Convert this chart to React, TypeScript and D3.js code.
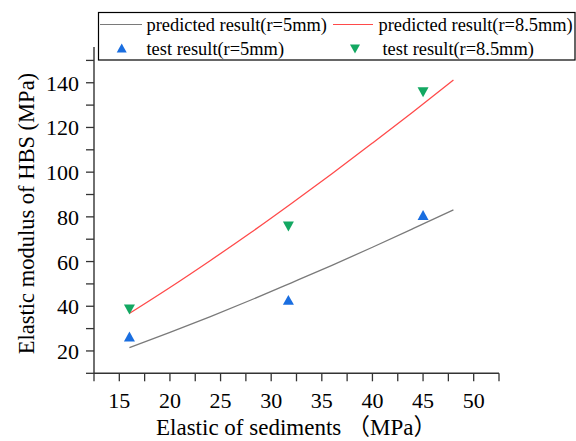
import React from "react";
import * as d3 from "d3";

const W = 576;
const H = 441;

// predicted curves
const predX = [16, 20, 24, 28, 32, 36, 40, 44, 48];
const pred5 = [21.5, 28.3, 35.4, 42.8, 50.5, 58.3, 66.4, 74.7, 83.1];
const pred85 = [36.8, 48.4, 60.5, 73.0, 86.0, 99.3, 113.0, 126.9, 141.2];

// test results
const testX = [16, 31.7, 45];
const test5 = [26.2, 42.6, 80.6];
const test85 = [38.8, 75.9, 136];

const xMajor = [15, 20, 25, 30, 35, 40, 45, 50];
const xMinor = [12.5, 17.5, 22.5, 27.5, 32.5, 37.5, 42.5, 47.5, 52.5];
const yMajor = [20, 40, 60, 80, 100, 120, 140];
const yMinor = [10, 30, 50, 70, 90, 110, 130, 150];

const legendLabels = [
  "predicted result(r=5mm)",
  "predicted result(r=8.5mm)",
  "test result(r=5mm)",
  "test result(r=8.5mm)",
];

const FONT = "'Liberation Serif', 'Times New Roman', 'Noto Sans CJK SC', serif";
const AX = "#333";
const GRAY = "#7a7a7a";
const RED = "#ff4a4a";
const BLUE = "#1a6ee0";
const GREEN = "#13a862";
const ts = { fontFamily: FONT } as React.CSSProperties;

function triUp(cx: number, cy: number, s = 5.5) {
  return `M${cx},${cy - s}L${cx + s},${cy + s * 0.8}L${cx - s},${cy + s * 0.8}Z`;
}
function triDown(cx: number, cy: number, s = 5.5) {
  return `M${cx},${cy + s}L${cx + s},${cy - s * 0.8}L${cx - s},${cy - s * 0.8}Z`;
}

export default function App() {
  const x = d3.scaleLinear().domain([12.5, 52.5]).range([94, 499]);
  const y = d3.scaleLinear().domain([10, 156]).range([373.3, 47]);
  const line = d3
    .line<number>()
    .x((_, i) => x(predX[i]))
    .y((d) => y(d))
    .curve(d3.curveMonotoneX);
  const x0 = x(12.5);
  const y0 = y(10);
  const tk = 8;

  return (
    <svg
      width={W}
      height={H}
      style={{ position: "absolute", left: 0, top: 0, background: "#fff" }}
    >
      <rect x={0} y={0} width={W} height={H} fill="#fff" />
      {/* curves */}
      <path d={line(pred5) || ""} fill="none" stroke={GRAY} strokeWidth={1.3} />
      <path d={line(pred85) || ""} fill="none" stroke={RED} strokeWidth={1.3} />
      {/* markers */}
      {testX.map((v, i) => (
        <path key={"b" + i} d={triUp(x(v), y(test5[i]))} fill={BLUE} />
      ))}
      {testX.map((v, i) => (
        <path key={"g" + i} d={triDown(x(v), y(test85[i]))} fill={GREEN} />
      ))}
      {/* axes */}
      <line x1={x0} x2={x0} y1={y(156)} y2={y0} stroke={AX} strokeWidth={1.4} />
      <line x1={x0} x2={x(52.5)} y1={y0} y2={y0} stroke={AX} strokeWidth={1.4} />
      {[...xMajor, ...xMinor].map((v) => (
        <line key={"xt" + v} x1={x(v)} x2={x(v)} y1={y0} y2={y0 + tk} stroke={AX} strokeWidth={1.3} />
      ))}
      {[...yMajor, ...yMinor].map((v) => (
        <line key={"yt" + v} x1={x0 - tk} x2={x0} y1={y(v)} y2={y(v)} stroke={AX} strokeWidth={1.3} />
      ))}
      {xMajor.map((v) => (
        <text key={"xl" + v} x={x(v)} y={y0 + 34.4} fontSize={22} textAnchor="middle" fill="#000" style={ts}>
          {v}
        </text>
      ))}
      {yMajor.map((v) => (
        <text key={"yl" + v} x={x0 - 15} y={y(v) + 8} fontSize={22} textAnchor="end" fill="#000" style={ts}>
          {v}
        </text>
      ))}
      <text x={156} y={435} fontSize={23} textAnchor="start" fill="#000" style={ts}>
        Elastic of sediments （MPa）
      </text>
      <text
        transform={`translate(34,213.5) rotate(-90)`}
        fontSize={22.5}
        textAnchor="middle"
        fill="#000"
        style={ts}
      >
        Elastic modulus of HBS (MPa)
      </text>
      {/* legend */}
      <rect x={98.5} y={12.5} width={476.5} height={47.5} fill="#fff" stroke="#000" strokeWidth={1.2} />
      <line x1={100} x2={142} y1={24.5} y2={24.5} stroke={GRAY} strokeWidth={1.2} />
      <line x1={333} x2={373} y1={24.5} y2={24.5} stroke={RED} strokeWidth={1.2} />
      <path d={triUp(121.7, 48.5, 5)} fill={BLUE} />
      <path d={triDown(355, 48.5, 5)} fill={GREEN} />
      <text x={146.5} y={31} fontSize={18.4} fill="#000" style={ts}>{legendLabels[0]}</text>
      <text x={378.5} y={31} fontSize={18.4} fill="#000" style={ts}>{legendLabels[1]}</text>
      <text x={146.5} y={55} fontSize={18.4} fill="#000" style={ts}>{legendLabels[2]}</text>
      <text x={382.5} y={55} fontSize={18.4} fill="#000" style={ts}>{legendLabels[3]}</text>
    </svg>
  );
}
